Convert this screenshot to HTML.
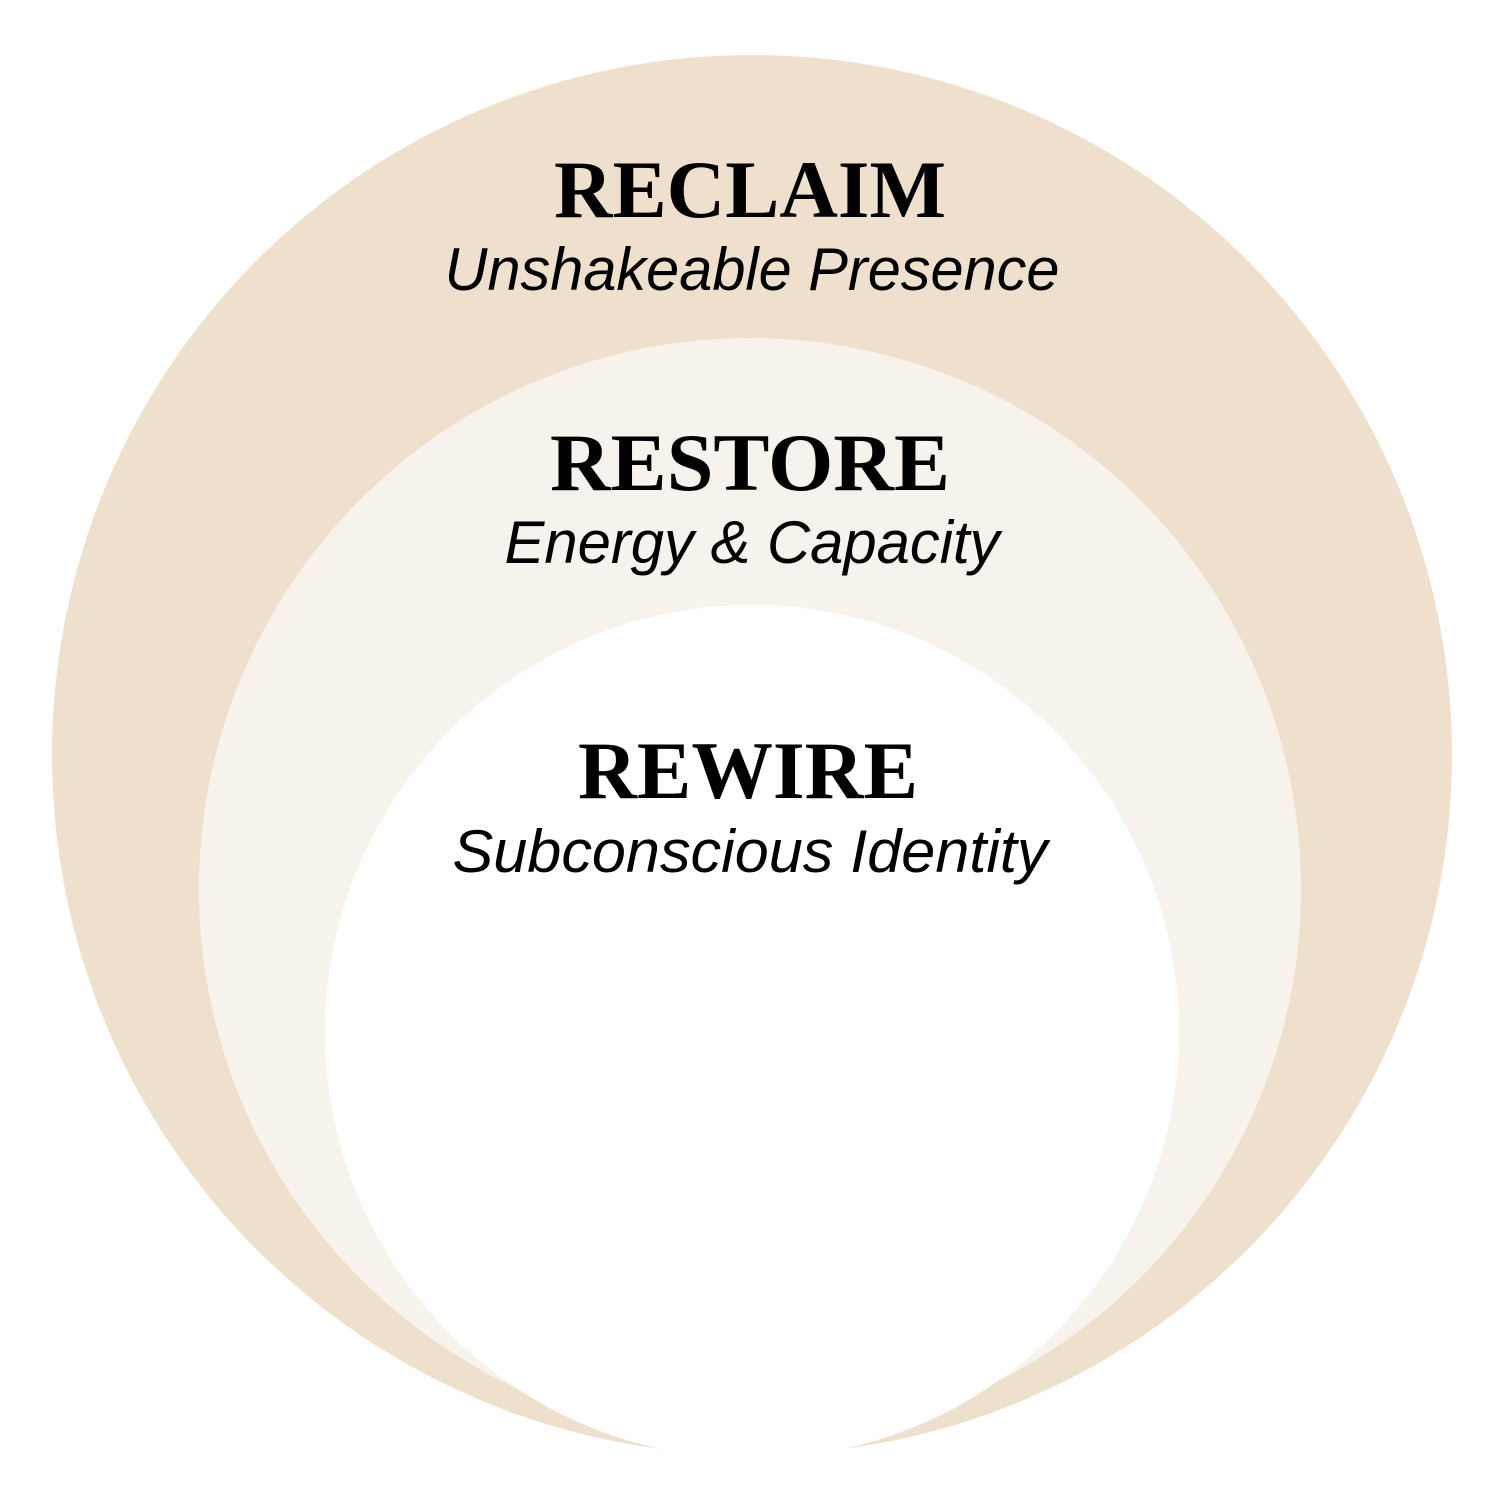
<!DOCTYPE html>
<html><head><meta charset="utf-8"><style>html,body{margin:0;padding:0;background:#fff}</style></head>
<body>
<svg width="1500" height="1500" viewBox="0 0 1500 1500" xmlns="http://www.w3.org/2000/svg">
<rect width="1500" height="1500" fill="#fff"/>
<circle cx="752" cy="755" r="700" fill="#EFE0CD"/>
<circle cx="750" cy="889" r="551" fill="#F7F2EC"/>
<circle cx="752" cy="1032" r="427" fill="#fff"/>
<g font-family="'Liberation Serif', serif" font-weight="bold" font-size="82" fill="#000" text-anchor="middle">
<text x="750" y="217" textLength="392" lengthAdjust="spacingAndGlyphs">RECLAIM</text>
<text x="750" y="490" textLength="400" lengthAdjust="spacingAndGlyphs">RESTORE</text>
<text x="748" y="798" textLength="340" lengthAdjust="spacingAndGlyphs">REWIRE</text>
</g>
<g font-family="'Liberation Sans', sans-serif" font-style="italic" font-size="60" fill="#000" text-anchor="middle">
<text x="752" y="290" textLength="615" lengthAdjust="spacingAndGlyphs">Unshakeable Presence</text>
<text x="752" y="563" textLength="495" lengthAdjust="spacingAndGlyphs">Energy &amp; Capacity</text>
<text x="750" y="872" textLength="595" lengthAdjust="spacingAndGlyphs">Subconscious Identity</text>
</g>
</svg>
</body></html>
